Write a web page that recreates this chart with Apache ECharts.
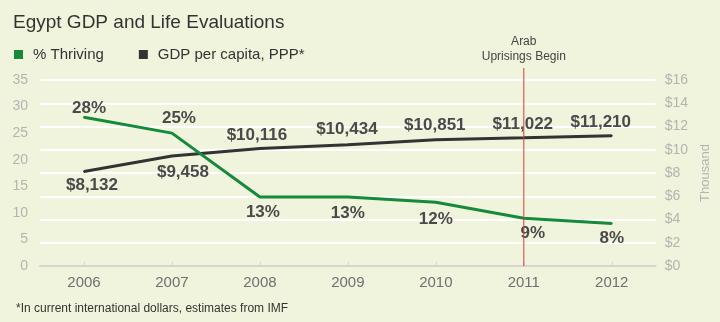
<!DOCTYPE html>
<html>
<head>
<meta charset="utf-8">
<script src="https://cdn.jsdelivr.net/npm/echarts@6/dist/echarts.min.js"></script>
<style>
html,body{margin:0;padding:0;background:#f1f4dc;}
#c{width:720px;height:322px;}
</style>
</head>
<body>
<div id="c"></div>
<script>
var years = ['2006','2007','2008','2009','2010','2011','2012'];
var thriving = [28, 25, 13, 13, 12, 9, 8];
var gdpPerCapita = [8132, 9458, 10116, 10434, 10851, 11022, 11210];
var leftTicks = [0, 35, 5];
var rightTicks = [0, 16000, 2000];
var eventYear = '2011';
var eventText = 'Arab\nUprisings Begin';

// label placement (center offsets from each point, in px)
var thrivingLabelOffsets = [[5,-9],[7,-15],[3,15],[0,16],[0,17],[9,15],[0,15]];
var gdpLabelOffsets = [[8,14],[11,16],[-3,-13],[-1,-15],[-1,-14.5],[-1,-13.5],[-11,-13.5]];

var FONT = '"Liberation Sans", Arial, Helvetica, sans-serif';
var GREEN = '#158a3b', DARK = '#333333';

function buildData(values, offsets) {
  return values.map(function (v, i) {
    return { value: v, label: { position: 'inside', offset: offsets[i] } };
  });
}

var chart = echarts.init(document.getElementById('c'), null, {renderer: 'canvas'});
var option = {
  backgroundColor: '#f1f4dc',
  animation: false,
  textStyle: { fontFamily: FONT },
  title: {
    text: 'Egypt GDP and Life Evaluations',
    left: 13, top: 13, padding: 0,
    textStyle: { fontFamily: FONT, fontSize: 19, fontWeight: 'normal', color: '#333' }
  },
  legend: {
    left: 14, top: 47, padding: 0,
    itemWidth: 9, itemHeight: 9, itemGap: 35,
    textStyle: { fontFamily: FONT, fontSize: 15, color: '#333', padding: [0,0,0,5] },
    data: [
      { name: '% Thriving', icon: 'rect', itemStyle: { color: GREEN } },
      { name: 'GDP per capita, PPP*', icon: 'rect', itemStyle: { color: DARK } }
    ]
  },
  grid: { left: 40, right: 60, top: 80, bottom: 56 },
  xAxis: {
    type: 'category', data: years, boundaryGap: true,
    axisLine: { lineStyle: { color: '#d6d6d0', width: 2 } },
    axisTick: { show: true, alignWithLabel: true, inside: true, length: 4, lineStyle: { color: '#d6d6d0' } },
    axisLabel: { fontFamily: FONT, fontSize: 15, color: '#707070', margin: 9 }
  },
  yAxis: [
    {
      type: 'value', min: leftTicks[0], max: leftTicks[1], interval: leftTicks[2],
      axisLine: { show: false }, axisTick: { show: false }, splitLine: { show: false },
      axisLabel: { fontFamily: FONT, fontSize: 14, color: '#b4b4b0', margin: 12 }
    },
    {
      type: 'value', min: rightTicks[0], max: rightTicks[1], interval: rightTicks[2],
      position: 'right',
      name: 'Thousand', nameLocation: 'middle', nameRotate: 90, nameGap: 36,
      nameTextStyle: { fontFamily: FONT, fontSize: 13, color: '#b4b4b0', padding: [0,0,12,0] },
      axisLine: { show: false }, axisTick: { show: false },
      splitLine: { show: true, lineStyle: { color: '#ffffff', width: 2 } },
      axisLabel: { fontFamily: FONT, fontSize: 14, color: '#b4b4b0', margin: 9,
        formatter: function (v) { return '$' + (v / 1000); } }
    }
  ],
  series: [
    {
      name: '% Thriving', type: 'line', yAxisIndex: 0,
      data: buildData(thriving, thrivingLabelOffsets),
      symbol: 'circle', symbolSize: 2, showSymbol: true, z: 3,
      lineStyle: { color: GREEN, width: 3 },
      itemStyle: { color: GREEN },
      label: { show: true, fontFamily: FONT, fontSize: 17, fontWeight: 'bold', color: '#4a4a4a',
        formatter: function (p) { return p.value + '%'; } }
    },
    {
      name: 'GDP per capita, PPP*', type: 'line', yAxisIndex: 1,
      data: buildData(gdpPerCapita, gdpLabelOffsets),
      symbol: 'circle', symbolSize: 2, showSymbol: true, z: 2,
      lineStyle: { color: DARK, width: 3 },
      itemStyle: { color: DARK },
      label: { show: true, fontFamily: FONT, fontSize: 17, fontWeight: 'bold', color: '#4a4a4a',
        formatter: function (p) { return '$' + p.value.toLocaleString('en-US'); } }
    }
  ]
};
chart.setOption(option);

// event marker line, positioned through the chart's own scales
var ex = chart.convertToPixel({ xAxisIndex: 0 }, eventYear);
var eyBottom = chart.convertToPixel({ yAxisIndex: 0 }, leftTicks[0]);
var eyTop = chart.convertToPixel({ yAxisIndex: 0 }, leftTicks[1]) - 12;
chart.setOption({
  graphic: [
    { type: 'line', z: 10, silent: true,
      shape: { x1: ex, y1: eyTop, x2: ex, y2: eyBottom },
      style: { stroke: '#d83b3b', lineWidth: 1 } },
    { type: 'text', z: 10, silent: true, x: ex, y: eyTop - 4,
      style: { text: eventText, font: '12px ' + FONT, fill: '#444', align: 'center',
        verticalAlign: 'bottom', lineHeight: 15 } },
    { type: 'text', silent: true, left: 16, top: 303,
      style: { text: '*In current international dollars, estimates from IMF', font: '12px ' + FONT, fill: '#333' } }
  ]
});
</script>
</body>
</html>
